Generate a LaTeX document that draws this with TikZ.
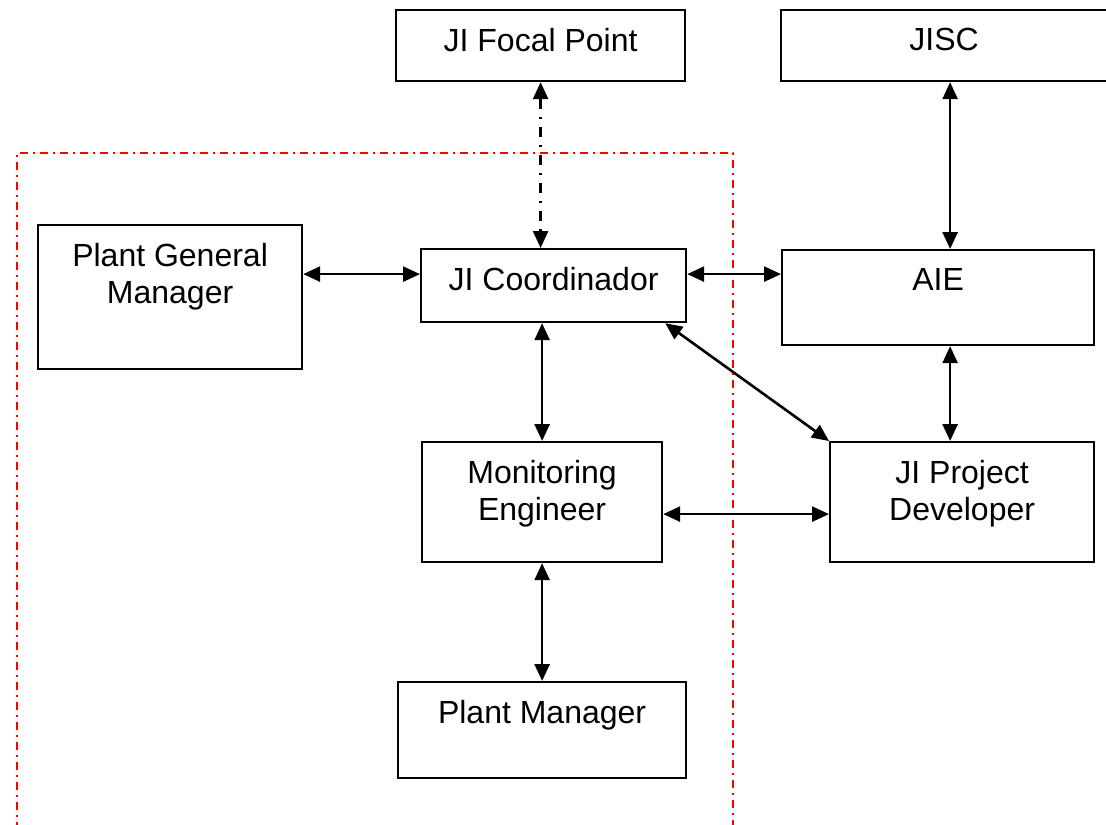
\documentclass[tikz,border=0pt]{standalone}
\usepackage{fontspec}
\setmainfont{Liberation Sans}
\usepackage{tikz}
\usetikzlibrary{arrows.meta}

% text set at the top of a box of given width and height
\newcommand{\boxtext}[3]{\parbox[c][#2][t]{#1}{\centering\vspace*{9pt}#3}}

\begin{document}
\begin{tikzpicture}[x=0.5pt, y=-0.5pt,
    unitbox/.style={draw, line width=1.1pt, inner sep=0pt, anchor=north west,
        font=\fontsize{16}{18.5}\selectfont},
    link/.style={line width=1.3pt,
        {Triangle[length=8.5pt,width=7.5pt]}-{Triangle[length=8.5pt,width=7.5pt]}},
    dashlink/.style={link, dash pattern=on 5pt off 4pt on 1pt off 4pt},
    frame/.style={red, line width=1pt, dash pattern=on 4pt off 2.5pt on 1pt off 2.5pt}]

    \useasboundingbox (0,0) rectangle (1106,824);

    % Boxes
    \node[unitbox] (focal) at (395,9)   {\boxtext{144.5pt}{35.5pt}{JI Focal Point}};
    \node[unitbox] (jisc)  at (780,9)   {\boxtext{163pt}{35.5pt}{JISC}};
    \node[unitbox] (pgm)   at (37,224)  {\boxtext{132pt}{72pt}{Plant General\\Manager}};
    \node[unitbox] (coord) at (420,248) {\boxtext{132.5pt}{36.5pt}{JI Coordinador}};
    \node[unitbox] (aie)   at (781,249) {\boxtext{156pt}{47.5pt}{AIE}};
    \node[unitbox] (me)    at (421,441) {\boxtext{120pt}{60pt}{Monitoring\\Engineer}};
    \node[unitbox] (jipd)  at (829,441) {\boxtext{132pt}{60pt}{JI Project\\Developer}};
    \node[unitbox] (pm)    at (397,681) {\boxtext{144pt}{48pt}{Plant Manager}};

    % Plant boundary
    \draw[frame] (17,830) -- (17,153) -- (733,153) -- (733,830);

    % attachment points off the box centres
    \coordinate (coordw) at ([yshift=5.75pt]coord.west);
    \coordinate (coorde) at ([yshift=5.75pt]coord.east);
    \coordinate (aien)   at ([xshift=6pt]aie.north);
    \coordinate (aies)   at ([xshift=6pt]aie.south);
    \coordinate (mee)    at ([yshift=-6pt]me.east);

    % Connectors
    \draw[dashlink] (focal.south) -- (focal.south |- coord.north);
    \draw[link] (aien) -- (aien |- jisc.south);
    \draw[link] (pgm.east |- coordw) -- (coordw);
    \draw[link] (coorde) -- (coorde -| aie.west);
    \draw[link] (me.north |- coord.south) -- (me.north);
    \draw[link] (aies) -- (aies |- jipd.north);
    \draw[link] ([xshift=-11pt]coord.south east) -- (jipd.north west);
    \draw[link] (mee) -- (mee -| jipd.west);
    \draw[link] (me.south) -- (me.south |- pm.north);
\end{tikzpicture}
\end{document}
